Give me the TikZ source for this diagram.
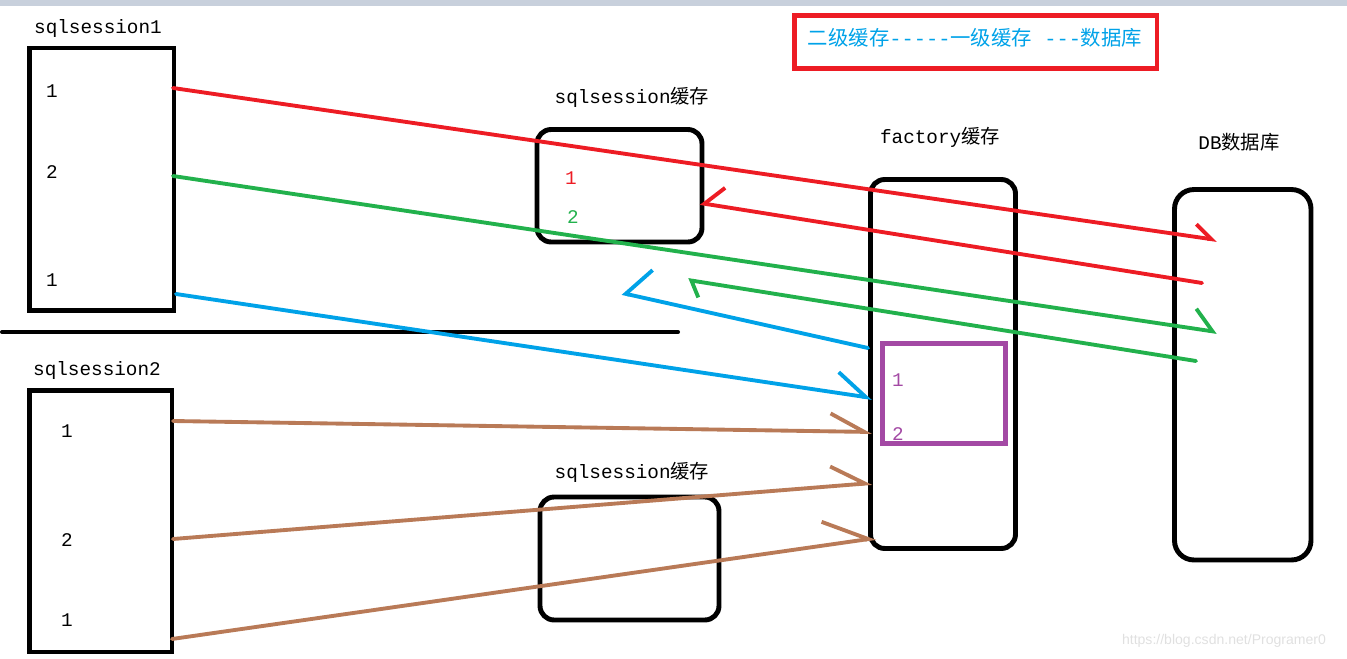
\documentclass[tikz,border=0pt]{standalone}
\usepackage{fontspec}
\setmainfont{Liberation Mono}[Ligatures=ResetAll]
\newfontfamily\cjk{Noto Sans CJK SC}
\newfontfamily\wmfont{Liberation Sans}
\usetikzlibrary{arrows.meta}
\definecolor{PaintRed}{RGB}{237,28,36}
\definecolor{PaintGreen}{RGB}{34,177,76}
\definecolor{PaintBlue}{RGB}{0,162,232}
\definecolor{PaintBrown}{RGB}{185,122,87}
\definecolor{PaintPurple}{RGB}{163,73,164}
\definecolor{BarGray}{RGB}{200,208,220}

\begin{document}
\begin{tikzpicture}[
    x=0.02cm, y=-0.02cm,
    font=\fontsize{11}{13}\selectfont,
    box/.style={rectangle, draw, line width=2.8pt, inner sep=0pt},
    rbox/.style={box, rounded corners=8pt},
    item/.style={inner sep=0pt},
    flow/.style 2 args={line width=2.2pt, line cap=round, -{Straight Barb[harpoon, length=#1, width=#2]}},
    back/.style 2 args={line width=2.2pt, line cap=round, -{Straight Barb[harpoon, swap, length=#1, width=#2]}}
]
\useasboundingbox (0,0) rectangle (1347,659);
\fill[BarGray] (0,0) rectangle (1347,6);

% --- Title ---
\node[box, draw=PaintRed, minimum width=7.25cm, minimum height=1.06cm] (TitleBox) at (975.75,42) {};
\node[item, text=PaintBlue, font=\fontsize{11.6}{13}\selectfont] (Title) at (975,38) {{\cjk 二级缓存}-{}-{}-{}-{}-{\cjk 一级缓存} -{}-{}-{\cjk 数据库}};

% --- Sessions (left) ---
\node[box, minimum width=2.89cm, minimum height=5.25cm] (S1) at (101.75,179.25) {};
\node[item] (S1lab) at (98,29) {sqlsession1};
\node[item] (S1a) at (52,91) {1};
\node[item] (S1b) at (52,172) {2};
\node[item] (S1c) at (52,280) {1};
\draw[line width=2.3pt, line cap=round] (2,332) -- (678,332);
\node[box, minimum width=2.85cm, minimum height=5.23cm] (S2) at (100.75,521.25) {};
\node[item] (S2lab) at (97,370) {sqlsession2};
\node[item] (S2a) at (67,431) {1};
\node[item] (S2b) at (67,540) {2};
\node[item] (S2c) at (67,620) {1};

% --- Session caches ---
\node[rbox, minimum width=3.3cm, minimum height=2.25cm] (C1) at (619.5,185.75) {};
\node[item] (C1lab) at (632,97) {sqlsession{\cjk 缓存}};
\node[item, text=PaintRed] (C1a) at (571,178) {1};
\node[item, text=PaintGreen] (C1b) at (573,217) {2};
\node[rbox, minimum width=3.58cm, minimum height=2.46cm] (C2) at (629.5,558.5) {};
\node[item] (C2lab) at (632,472) {sqlsession{\cjk 缓存}};

% --- Factory cache and database ---
\node[rbox, minimum width=2.9cm, minimum height=7.38cm] (F) at (943,364) {};
\node[item] (Flab) at (940,137) {factory{\cjk 缓存}};
\node[box, draw=PaintPurple, minimum width=2.46cm, minimum height=2cm] (P) at (944,393.5) {};
\node[item, text=PaintPurple] (Pa) at (898,380) {1};
\node[item, text=PaintPurple] (Pb) at (898,434) {2};
\node[rbox, rounded corners=11pt, minimum width=2.73cm, minimum height=7.41cm] (DB) at (1242.75,374.75) {};
\node[item] (DBlab) at (1239,142) {DB{\cjk 数据库}};

% --- Connector ends ---
\coordinate (r1s) at (173,88);   \coordinate (r1e) at (1217,240);
\coordinate (g1s) at (173,176);  \coordinate (g1e) at (1217,332);
\coordinate (b1s) at (176,294);  \coordinate (b1e) at (872,398);
\coordinate (r2s) at (1202,283); \coordinate (r2e) at (700,203);
\coordinate (g2s) at (1196,361); \coordinate (g2e) at (688,280);
\coordinate (b2s) at (868,348);  \coordinate (b2e) at (622,293);
\coordinate (n1s) at (173,421);  \coordinate (n1e) at (872,432);
\coordinate (n2s) at (173,539);  \coordinate (n2e) at (872,483);
\coordinate (n3s) at (172,639);  \coordinate (n3e) at (876,538);

% --- Arrows ---
\draw[flow={9.6pt}{14.3pt}, PaintRed] (r1s) -- (r1e);
\draw[flow={11pt}{22.7pt}, PaintGreen] (g1s) -- (g1e);
\draw[flow={17.3pt}{23.5pt}, PaintBlue] (b1s) -- (b1e);
\draw[back={10.2pt}{21.5pt}, PaintRed] (r2s) -- (r2e);
\draw[flow={5.4pt}{17.8pt}, PaintGreen] (g2s) -- (g2e);
\draw[back={12pt}{33pt}, PaintBlue] (b2s) -- (b2e);
\draw[flow={19.3pt}{20.4pt}, PaintBrown] (n1s) -- (n1e);
\draw[flow={19pt}{22.5pt}, PaintBrown] (n2s) -- (n2e);
\draw[flow={25pt}{27pt}, PaintBrown] (n3s) -- (n3e);

\node[item, text=black!12, font=\wmfont\fontsize{8}{10}\selectfont] (Mark) at (1224,641) {https://blog.csdn.net/Programer0};
\end{tikzpicture}
\end{document}
